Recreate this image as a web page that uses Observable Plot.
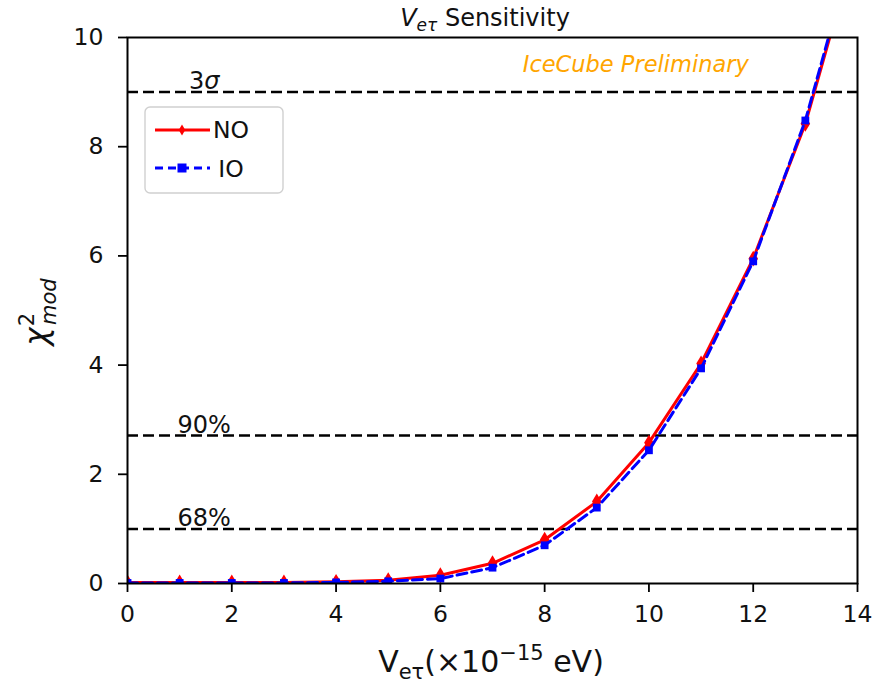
<!DOCTYPE html>
<html>
<head>
<meta charset="utf-8">
<script src="https://cdn.jsdelivr.net/npm/d3@7"></script>
<script src="https://cdn.jsdelivr.net/npm/@observablehq/plot@0.6"></script>
<style>
  html, body { margin: 0; padding: 0; background: #fff; }
  svg { font-family: "DejaVu Sans", sans-serif; }
</style>
</head>
<body>
<div id="chart"></div>
<script>
// Data
const vet = [0, 1, 2, 3, 4, 5, 6, 7, 8, 9, 10, 11, 12, 13, 14];
const chiNO = [0.02, 0.02, 0.02, 0.02, 0.03, 0.06, 0.15, 0.37, 0.80, 1.50, 2.58, 4.03, 5.95, 8.42, 11.8];
const chiIO = [0.01, 0.01, 0.01, 0.01, 0.02, 0.04, 0.09, 0.29, 0.70, 1.39, 2.44, 3.94, 5.90, 8.48, 11.9];
const thresholds = [1, 2.71, 9];
const thresholdLabels = ["68%", "90%", "3σ"];
const xTicks = [0, 2, 4, 6, 8, 10, 12, 14];
const yTicks = [0, 2, 4, 6, 8, 10];

const no = vet.map((x, i) => ({x, y: chiNO[i]}));
const io = vet.map((x, i) => ({x, y: chiIO[i]}));
const thr = thresholds.map((y, i) => ({y, label: thresholdLabels[i], x: i === 2 ? 1.18 : 0.96}));

// matplotlib-like thin diamond
const thinDiamond = {
  draw(context, size) {
    const h = Math.sqrt(size) * 0.9, w = h * 0.6;
    context.moveTo(0, -h);
    context.lineTo(w, 0);
    context.lineTo(0, h);
    context.lineTo(-w, 0);
    context.closePath();
  }
};

const W = 877, H = 685;
const chart = Plot.plot({
  width: W,
  height: H,
  marginLeft: 127,
  marginRight: 20,
  marginTop: 37,
  marginBottom: 102,
  style: {fontFamily: "DejaVu Sans, sans-serif", fontSize: "23px", color: "black", background: "white"},
  x: {domain: [0, 14], label: null, axis: null},
  y: {domain: [0, 10], label: null, axis: null},
  marks: [
    Plot.axisX(xTicks, {tickSize: 9, tickPadding: 13, fontSize: 23.5, strokeWidth: 1.8, tickFormat: d => String(d), label: null, fill: "#111"}),
    Plot.axisY(yTicks, {tickSize: 9, tickPadding: 15, fontSize: 23.5, strokeWidth: 1.8, tickFormat: d => String(d), label: null, fill: "#111"}),
    Plot.ruleY(thr, {y: "y", stroke: "black", strokeWidth: 2.5, strokeDasharray: "11,5"}),
    Plot.text(thr, {x: "x", y: "y", text: "label", textAnchor: "start", lineAnchor: "bottom", dy: -3, fontSize: 24, fill: "#111"}),
    Plot.text(["IceCube Preliminary"], {x: 7.58, y: 9.5, text: d => d, textAnchor: "start", fontSize: 22.5, fontStyle: "italic", fill: "#FFA500"}),
    Plot.line(no, {x: "x", y: "y", stroke: "#ff0000", strokeWidth: 3, clip: true}),
    Plot.dot(no, {x: "x", y: "y", symbol: thinDiamond, r: 5, fill: "#ff0000", clip: true}),
    Plot.line(io, {x: "x", y: "y", stroke: "#0000ff", strokeWidth: 3, strokeDasharray: "10,5", clip: true}),
    Plot.dot(io, {x: "x", y: "y", symbol: "square", r: 4.4, fill: "#0000ff", clip: true}),
    Plot.frame({stroke: "black", strokeWidth: 2})
  ]
});

const svg = d3.select(chart);
svg.selectAll("g[aria-label$='tick label'] text").style("font-size", "23.5px");

// Italic sigma in "3σ"
svg.selectAll("text").filter(function() { return this.textContent === "3σ"; }).each(function() {
  const el = d3.select(this);
  el.text("");
  el.append("tspan").text("3");
  el.append("tspan").attr("font-style", "italic").text("σ");
});

// Title
const t = svg.append("text").attr("x", 485).attr("y", 26).attr("text-anchor", "middle")
  .style("font-size", "24px").attr("fill", "#111");
t.append("tspan").attr("font-style", "italic").text("V");
t.append("tspan").attr("font-style", "italic").style("font-size", "17px").attr("dy", 5).text("eτ");
t.append("tspan").attr("dy", -5).text(" Sensitivity");

// X label
const xl = svg.append("text").attr("x", 491).attr("y", 672).attr("text-anchor", "middle")
  .style("font-size", "30px").attr("fill", "#111");
xl.append("tspan").text("V");
xl.append("tspan").style("font-size", "21px").attr("dy", 7).text("eτ");
xl.append("tspan").attr("dy", -7).text("(×10");
xl.append("tspan").style("font-size", "21px").attr("dy", -12).text("−15");
xl.append("tspan").attr("dy", 12).text(" eV)");

// Y label
const yl = svg.append("text").attr("transform", "translate(47,312) rotate(-90)").attr("text-anchor", "middle")
  .style("font-size", "31px").attr("fill", "#111");
yl.append("tspan").attr("font-style", "italic").text("χ");
yl.append("tspan").style("font-size", "21px").attr("dy", -13).attr("dx", 1).text("2");
yl.append("tspan").style("font-size", "21px").attr("font-style", "italic").attr("dy", 22).attr("dx", -12).text("mod");

// Legend
const lg = svg.append("g");
lg.append("rect").attr("x", 145).attr("y", 107).attr("width", 138).attr("height", 86)
  .attr("rx", 5).attr("fill", "white").attr("fill-opacity", 0.85).attr("stroke", "#d0d0d0").attr("stroke-width", 1.4);
lg.append("line").attr("x1", 155).attr("x2", 210).attr("y1", 130).attr("y2", 130)
  .attr("stroke", "#ff0000").attr("stroke-width", 3);
lg.append("path").attr("d", d3.symbol(thinDiamond, 36)()).attr("transform", "translate(182,130)").attr("fill", "#ff0000");
lg.append("text").attr("x", 231).attr("y", 138).style("font-size", "23.5px").attr("fill", "#111").text("NO");
lg.append("line").attr("x1", 155).attr("x2", 210).attr("y1", 168).attr("y2", 168)
  .attr("stroke", "#0000ff").attr("stroke-width", 3).attr("stroke-dasharray", "8,5");
lg.append("rect").attr("x", 177.5).attr("y", 163.5).attr("width", 9).attr("height", 9).attr("fill", "#0000ff");
lg.append("text").attr("x", 231).attr("y", 177).style("font-size", "23.5px").attr("fill", "#111").text("IO");

document.getElementById("chart").appendChild(chart);
</script>
</body>
</html>
